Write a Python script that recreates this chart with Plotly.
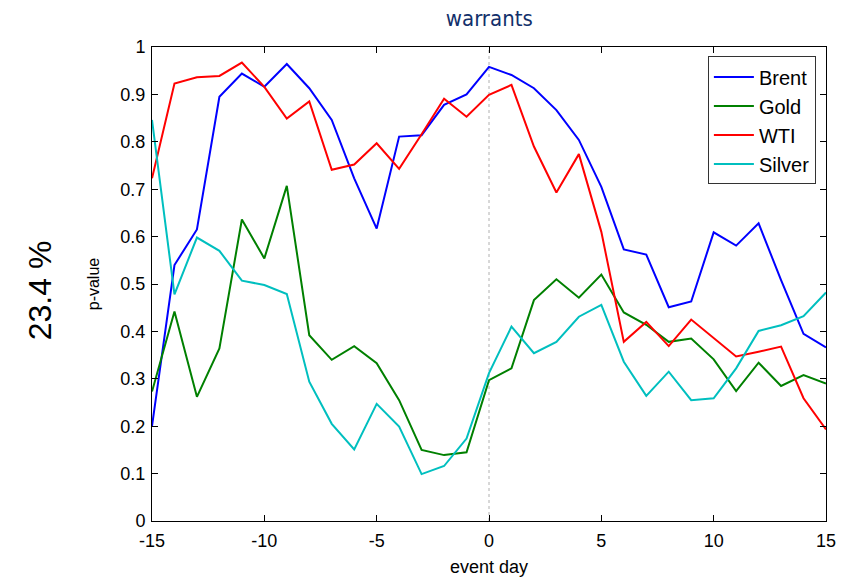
import plotly.graph_objects as go

days = list(range(-15, 16))
brent = [0.20, 0.54, 0.615, 0.895, 0.944, 0.916, 0.964, 0.913, 0.846, 0.723, 0.617, 0.811, 0.814, 0.878, 0.900,
         0.958, 0.941, 0.913, 0.867, 0.804, 0.705, 0.573, 0.562, 0.451, 0.463, 0.609, 0.581, 0.628, 0.508, 0.395, 0.366]
gold = [0.273, 0.442, 0.262, 0.364, 0.636, 0.554, 0.707, 0.392, 0.340, 0.369, 0.333, 0.255, 0.150, 0.139, 0.145,
        0.297, 0.322, 0.466, 0.510, 0.471, 0.520, 0.440, 0.414, 0.378, 0.385, 0.341, 0.274, 0.334, 0.285, 0.308, 0.290]
wti = [0.723, 0.923, 0.936, 0.939, 0.967, 0.916, 0.849, 0.885, 0.741, 0.752, 0.797, 0.743, 0.816, 0.891, 0.853,
       0.899, 0.920, 0.790, 0.693, 0.774, 0.61, 0.378, 0.420, 0.369, 0.425, 0.385, 0.347, 0.357, 0.368, 0.259, 0.193]
silver = [0.846, 0.478, 0.598, 0.570, 0.507, 0.498, 0.479, 0.294, 0.205, 0.151, 0.247, 0.199, 0.099, 0.116, 0.174,
          0.312, 0.410, 0.354, 0.378, 0.431, 0.456, 0.336, 0.264, 0.315, 0.255, 0.259, 0.322, 0.401, 0.413, 0.432, 0.482]

x_ticks = [-15, -10, -5, 0, 5, 10, 15]
x_tick_labels = ["-15", "-10", "-5", "0", "5", "10", "15"]
y_ticks = [i / 10 for i in range(11)]
y_tick_labels = ["0", "0.1", "0.2", "0.3", "0.4", "0.5", "0.6", "0.7", "0.8", "0.9", "1"]

series = [("Brent", brent, "#0000ff"), ("Gold", gold, "#008000"), ("WTI", wti, "#ff0000"), ("Silver", silver, "#00bfbf")]

fig = go.Figure()
for name, vals, col in series:
    fig.add_trace(go.Scatter(x=days, y=vals, mode="lines", name=name, line=dict(color=col, width=2)))

fig.add_shape(type="line", x0=0, x1=0, y0=0, y1=1, xref="x", yref="y",
              line=dict(color="#b0b0b0", width=1, dash="dot"), layer="below")

axis_common = dict(showgrid=False, zeroline=False, showline=True, linecolor="#000000", linewidth=1,
                   mirror="ticks", ticks="inside", ticklen=6, tickcolor="#000000", automargin=False,
                   tickfont=dict(family="Liberation Sans, Arial", size=18, color="#000000"))

fig.update_layout(
    width=848, height=579,
    margin=dict(l=152, r=22, t=47, b=58),
    paper_bgcolor="white", plot_bgcolor="white",
    title=dict(text="warrants", x=0.577, xanchor="center", y=0.982, yanchor="top",
               font=dict(family="DejaVu Sans Condensed, DejaVu Sans", size=22, color="#13306b")),
    xaxis=dict(range=[-15, 15], tickvals=x_ticks, ticktext=x_tick_labels, ticklabelstandoff=3,
               title=dict(text="event day", font=dict(family="Liberation Sans, Arial", size=18, color="#000"), standoff=10),
               **axis_common),
    yaxis=dict(range=[0, 1], tickvals=y_ticks, ticktext=y_tick_labels, ticklabelstandoff=2,
               title=dict(text="p-value", font=dict(family="Liberation Sans, Arial", size=16, color="#000"), standoff=16),
               **axis_common),
    legend=dict(x=0.985, y=0.98, xanchor="right", yanchor="top", bgcolor="white",
                bordercolor="#333333", borderwidth=1, itemwidth=40,
                font=dict(family="Liberation Sans, Arial", size=20, color="#000")),
    showlegend=True,
)

fig.add_annotation(text="23.4 %", xref="paper", yref="paper", x=-0.166, y=0.487, xanchor="center", yanchor="middle",
                   showarrow=False, textangle=-90,
                   font=dict(family="Liberation Sans, Arial", size=32, color="#000"))

fig.write_html("out.html")
